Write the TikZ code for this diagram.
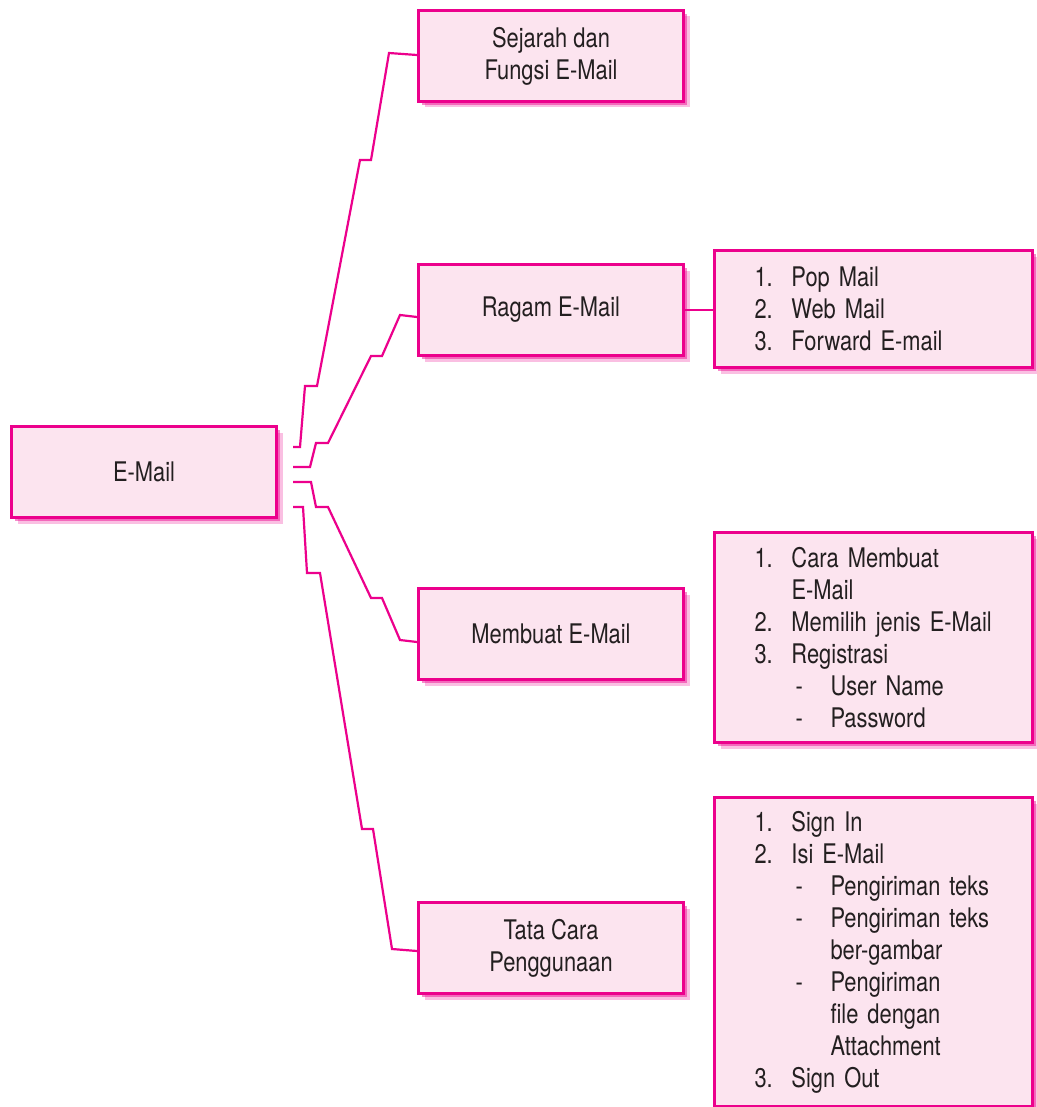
\documentclass[tikz,border=0pt]{standalone}
\usepackage{fontspec}
\setmainfont{TeX Gyre Heros}[FakeStretch=0.81]
\usetikzlibrary{shadows,calc}
\definecolor{mag}{HTML}{EC008C}
\definecolor{pinkfill}{HTML}{FCE4EF}
\definecolor{txt}{HTML}{231F20}
\newcommand{\itm}[2]{\makebox[37pt][l]{#1}#2}
\newcommand{\cont}[1]{\hspace*{37pt}#1}
\newcommand{\sub}[1]{\hspace*{41pt}\makebox[35pt][l]{-}#1}
\newcommand{\subcont}[1]{\hspace*{76pt}#1}
\begin{document}
\begin{tikzpicture}[x=1pt,y=-1pt,
  box/.style={draw=mag, line width=3pt, fill=pinkfill, text=txt,
    font=\fontsize{27}{32}\selectfont,
    drop shadow={fill=mag, opacity=0.25, shadow xshift=6pt, shadow yshift=-6pt},
    drop shadow={fill=mag, opacity=0.45, shadow xshift=3.5pt, shadow yshift=-3.5pt}},
  mainbox/.style={box, minimum width=265pt, minimum height=91pt, inner sep=0pt, align=center, anchor=north west},
  listbox/.style={box, minimum width=318pt, inner xsep=40pt, inner ysep=0pt, text width=238pt, align=left, anchor=north west},
  conn/.style={draw=mag, line width=2.2pt, line join=miter}]
\fill[white] (0,0) rectangle (1036,1107);
\useasboundingbox (0,0) rectangle (1036,1107);

\node[mainbox] (email) at (10,425) {E-Mail};
\node[mainbox] (sej) at (417,9) {Sejarah dan\\Fungsi E-Mail};
\node[mainbox] (rag) at (417,263) {Ragam E-Mail};
\node[mainbox] (mem) at (417,587) {Membuat E-Mail};
\node[mainbox] (tat) at (417,901) {Tata Cara\\Penggunaan};

\node[listbox, minimum height=117pt] (pop) at (713,249)
  {\itm{1.}{Pop Mail}\\\itm{2.}{Web Mail}\\\itm{3.}{Forward E-mail}};
\node[listbox, minimum height=210pt] (mlist) at (713,531)
  {\itm{1.}{Cara Membuat}\\\cont{E-Mail}\\\itm{2.}{Memilih jenis E-Mail}\\\itm{3.}{Registrasi}\\\sub{User Name}\\\sub{Password}};
\node[listbox, minimum height=309pt] (tlist) at (713,796)
  {\itm{1.}{Sign In}\\\itm{2.}{Isi E-Mail}\\\sub{Pengiriman teks}\\\sub{Pengiriman teks}\\\subcont{ber-gambar}\\\sub{Pengiriman}\\\subcont{file dengan}\\\subcont{Attachment}\\\itm{3.}{Sign Out}};

\coordinate (s1) at ($(email.north east)+(15,22)$);
\coordinate (s2) at ($(email.north east)+(15,42)$);
\coordinate (s3) at ($(email.north east)+(15,57)$);
\coordinate (s4) at ($(email.north east)+(15,82)$);

\draw[conn] (s1) -- (300,447) -- (305,386) -- (317,386) -- (360,160) -- (371,160) -- (389,53) -- ($(sej.west)+(0,-1)$);
\draw[conn] (s2) -- (310,467) -- (316,443) -- (328,443) -- (371,356) -- (382,356) -- (400,315) -- ($(rag.west)+(0,7)$);
\draw[conn] (s3) -- (311,482) -- (316,507) -- (328,507) -- (371,598) -- (382,598) -- (400,640) -- ($(mem.west)+(0,8)$);
\draw[conn] (s4) -- (303,507) -- (307,573) -- (320,573) -- (362,829) -- (373,829) -- (392,949) -- ($(tat.west)+(0,3)$);

\draw[conn] (rag.east) -- (rag.east -| pop.west);
\draw[conn] ($(mem.east)+(0,4)$) -- ($(mem.east)+(0,4)$ -| mlist.west);
\draw[conn] ($(tat.east)+(0,1)$) -- ($(tat.east)+(0,1)$ -| tlist.west);
\end{tikzpicture}
\end{document}
